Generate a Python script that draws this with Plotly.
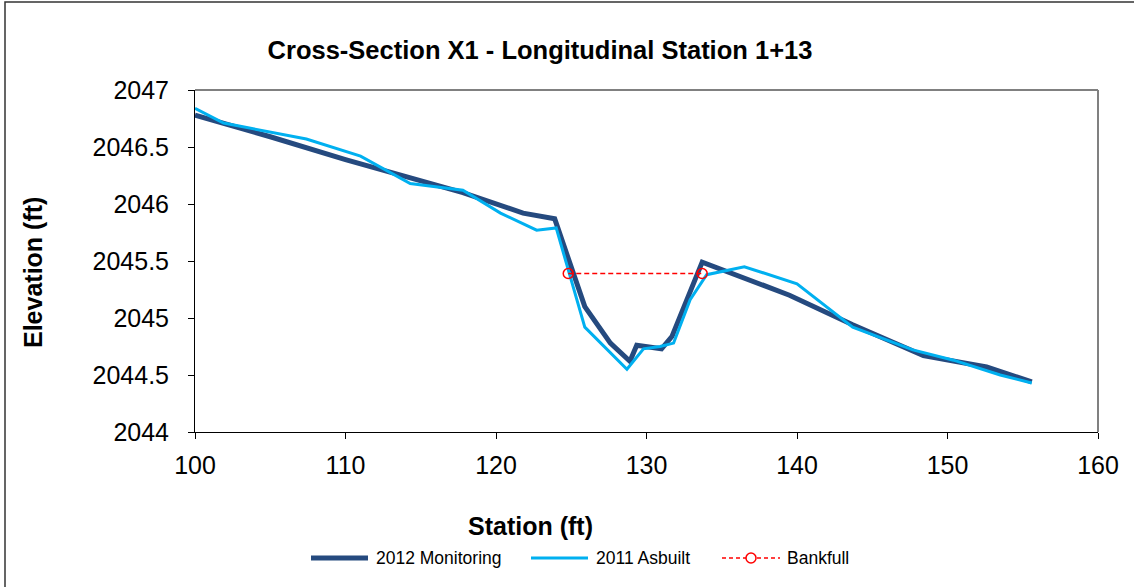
import plotly.graph_objects as go

# ---- data ----
mon_x = [100.0, 101.9, 105.0, 110.0, 114.3, 117.8, 121.8, 123.9, 125.9, 127.6, 128.9, 129.35, 131.0, 131.7, 133.7, 136.2, 139.5, 143.7, 148.4, 152.6, 155.6]
mon_y = [2046.78, 2046.71, 2046.59, 2046.39, 2046.23, 2046.10, 2045.92, 2045.87, 2045.10, 2044.78, 2044.62, 2044.76, 2044.73, 2044.84, 2045.49, 2045.37, 2045.20, 2044.94, 2044.67, 2044.57, 2044.44]

asb_x = [100.0, 101.9, 107.4, 111.0, 114.3, 117.8, 120.3, 122.7, 124.0, 125.9, 128.7, 129.8, 130.9, 131.8, 132.9, 134.0, 136.5, 140.0, 143.7, 147.7, 150.4, 153.5, 155.6]
asb_y = [2046.84, 2046.71, 2046.57, 2046.42, 2046.18, 2046.12, 2045.92, 2045.77, 2045.79, 2044.92, 2044.55, 2044.73, 2044.75, 2044.78, 2045.16, 2045.38, 2045.45, 2045.30, 2044.92, 2044.72, 2044.63, 2044.50, 2044.43]

bank_x = [124.8, 133.7]
bank_y = [2045.39, 2045.39]

x_ticks = [100, 110, 120, 130, 140, 150, 160]
y_ticks = [2044, 2044.5, 2045, 2045.5, 2046, 2046.5, 2047]

series_names = ["2012 Monitoring", "2011 Asbuilt", "Bankfull"]
series_colors = ["#254A7F", "#00B0F0", "#FF0000"]

FONT = "Liberation Sans, Arial, sans-serif"

# plot-area geometry in target pixels
PL, PR, PT, PB = 195, 1098, 90, 432
PW, PH = PR - PL, PB - PT


def px(x):
    return (x - PL) / PW


def py(y):
    return (PB - y) / PH


fig = go.Figure()
fig.add_trace(go.Scatter(x=mon_x, y=mon_y, mode="lines", name=series_names[0],
                         line=dict(color=series_colors[0], width=5)))
fig.add_trace(go.Scatter(x=asb_x, y=asb_y, mode="lines", name=series_names[1],
                         line=dict(color=series_colors[1], width=3)))
fig.add_trace(go.Scatter(x=bank_x, y=bank_y, mode="lines+markers", name=series_names[2],
                         line=dict(color=series_colors[2], width=1.5, dash="5px,3px"),
                         marker=dict(symbol="circle-open", size=10, color=series_colors[2],
                                     line=dict(width=1.5, color=series_colors[2]))))

fig.update_layout(
    width=1134, height=587,
    margin=dict(l=PL, r=1134 - PR, t=PT, b=587 - PB),
    paper_bgcolor="white", plot_bgcolor="white",
    font=dict(family=FONT, color="black"),
    showlegend=False,
    title=dict(text="<b>Cross-Section X1 - Longitudinal Station 1+13</b>",
               x=540 / 1134, xanchor="center", xref="container",
               y=1 - 50 / 587, yanchor="middle",
               font=dict(size=25.5, family=FONT, color="black")),
)

fig.update_xaxes(range=[100, 160], tickvals=x_ticks, ticktext=[str(v) for v in x_ticks],
                 showgrid=False, zeroline=False, showline=True, linecolor="black", linewidth=1,
                 ticks="outside", ticklen=6, tickcolor="black",
                 tickfont=dict(size=25, family=FONT, color="black"), ticklabelstandoff=5)
fig.update_yaxes(range=[2044, 2047], tickvals=y_ticks,
                 ticktext=[("%g" % v) for v in y_ticks],
                 showgrid=False, zeroline=False, showline=True, linecolor="black", linewidth=1,
                 ticks="outside", ticklen=6, tickcolor="black",
                 tickfont=dict(size=25, family=FONT, color="black"), ticklabelstandoff=14)

# plot-area border (top and right, gray)
fig.add_shape(type="line", xref="paper", yref="paper", x0=0, x1=1, y0=1, y1=1,
              line=dict(color="#808080", width=2))
fig.add_shape(type="line", xref="paper", yref="paper", x0=1, x1=1, y0=0, y1=1,
              line=dict(color="#808080", width=2))
# chart-area border
fig.add_shape(type="rect", xref="paper", yref="paper",
              x0=px(5), x1=px(1145), y0=py(600), y1=py(2),
              line=dict(color="#333333", width=1.5), layer="below")

# axis titles
fig.add_annotation(text="<b>Station (ft)</b>", xref="paper", yref="paper",
                   x=px(530), y=py(526), showarrow=False,
                   xanchor="center", yanchor="middle",
                   font=dict(size=25, family=FONT, color="black"))
fig.add_annotation(text="<b>Elevation (ft)</b>", xref="paper", yref="paper",
                   x=px(33), y=py(273), showarrow=False,
                   xanchor="center", yanchor="middle", textangle=-90,
                   font=dict(size=25, family=FONT, color="black"))

# legend (drawn to match the reference spacing)
LY = 558
leg_items = [
    (311, 368, 374, dict(color=series_colors[0], width=5)),
    (531, 588, 594, dict(color=series_colors[1], width=3)),
    (722, 780, 785, dict(color=series_colors[2], width=1.5, dash="4px,3px")),
]
for (lx0, lx1, tx, ln), name in zip(leg_items, series_names):
    fig.add_shape(type="line", xref="paper", yref="paper",
                  x0=px(lx0), x1=px(lx1), y0=py(LY), y1=py(LY), line=ln)
    fig.add_annotation(text=name, xref="paper", yref="paper", x=px(tx), y=py(LY),
                       showarrow=False, xanchor="left", yanchor="middle",
                       font=dict(size=17.5, family=FONT, color="black"))
cx = (722 + 780) / 2
fig.add_shape(type="circle", xref="paper", yref="paper",
              xsizemode="pixel", ysizemode="pixel", xanchor=px(cx), yanchor=py(LY),
              x0=-5, x1=5, y0=-5, y1=5, fillcolor="white",
              line=dict(color=series_colors[2], width=1.5))

fig.write_html("out.html", config={"displayModeBar": False},
               post_script="document.body.style.margin='0';document.body.style.overflow='hidden';")
